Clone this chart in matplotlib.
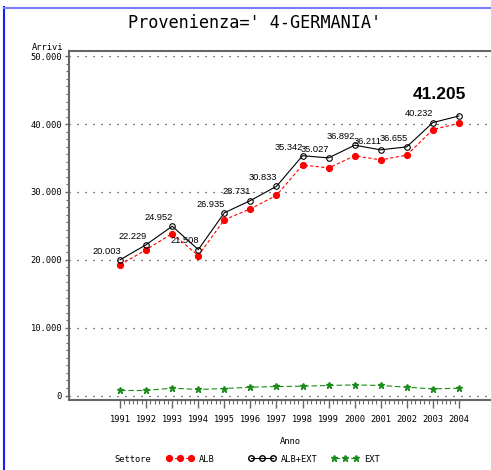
import matplotlib
matplotlib.use("Agg")
import matplotlib.pyplot as plt
import numpy as np
from matplotlib.lines import Line2D
from matplotlib.ticker import FixedLocator, FuncFormatter

# ---- data ----
years = [1991, 1992, 1993, 1994, 1995, 1996, 1997, 1998, 1999, 2000, 2001, 2002, 2003, 2004]
alb_ext = [20003, 22229, 24952, 21508, 26935, 28731, 30833, 35342, 35027, 36892, 36211, 36655, 40232, 41205]
alb = [19263, 21489, 23872, 20618, 25905, 27511, 29503, 33972, 33547, 35332, 34731, 35435, 39200, 40125]
ext = [740, 740, 1080, 890, 1030, 1220, 1330, 1370, 1480, 1560, 1480, 1220, 975, 1080]
y_ticks = [0, 10000, 20000, 30000, 40000, 50000]
y_tick_labels = ["0", "10.000", "20.000", "30.000", "40.000", "50.000"]
labels = ["20.003", "22.229", "24.952", "21.508", "26.935", "28.731", "30.833",
          "35.342", "35.027", "36.892", "36.211", "36.655", "40.232"]
last_label = "41.205"

W, H = 491, 470
DPI = 100
fig = plt.figure(figsize=(W / DPI, H / DPI), dpi=DPI)

def fx(px):
    return px / W

def fy(py):
    return 1 - py / H

# axes: left spine x=69, right edge 491, top y=51, bottom y=400
ax = fig.add_axes([fx(69), fy(400), fx(491) - fx(69), fy(51) - fy(400)])
ax.set_xlim(1989.04, 2005.23)
ax.set_ylim(-663, 50780)

red = "#ff0000"
green = "#1a8c1a"
spine_col = "#666666"

mono = "DejaVu Sans Mono"
sans = "Liberation Sans"

ax.plot(years, alb, color=red, linestyle=(0, (3, 2)), linewidth=0.8,
        marker="o", markersize=4.2, markerfacecolor=red, markeredgecolor=red, zorder=3)
ax.plot(years, alb_ext, color="black", linestyle="-", linewidth=0.8,
        marker="o", markersize=4.0, markerfacecolor="none", markeredgecolor="black",
        markeredgewidth=0.8, zorder=4)
ax.plot(years, ext, color=green, linestyle=(0, (5, 2.5)), linewidth=0.8,
        marker="*", markersize=5.0, markerfacecolor=green, markeredgecolor=green, zorder=3)

for x, y, t in zip(years, alb_ext, labels):
    ax.annotate(t, (x, y), xytext=(0.5, 3.0), textcoords="offset points",
                ha="right", va="bottom", fontsize=6.7, family=sans, zorder=5)
ax.annotate(last_label, (years[-1], alb_ext[-1]), xytext=(5, 15.5), textcoords="offset points",
            ha="right", va="center", fontsize=12.5, family=sans, fontweight="bold", zorder=5)

# grid
for yv in y_ticks:
    ax.axhline(yv, color="black", linewidth=0.9, linestyle=(0, (0.8, 5.6)), zorder=1)

# spines
for s in ["left", "bottom", "top"]:
    ax.spines[s].set_color(spine_col)
    ax.spines[s].set_linewidth(1.5)
ax.spines["right"].set_visible(False)

# ticks
ax.xaxis.set_major_locator(FixedLocator(years))
ax.xaxis.set_minor_locator(FixedLocator(np.arange(years[0], years[-1], 1 / 6)))
ax.set_xticklabels([str(y) for y in years], family=mono, fontsize=6.3)
ax.yaxis.set_major_locator(FixedLocator(y_ticks))
ax.yaxis.set_minor_locator(FixedLocator(np.arange(y_ticks[0], y_ticks[-1], 10000 / 9)))
ax.set_yticklabels(y_tick_labels, family=mono, fontsize=6.3)
ax.tick_params(axis="x", which="major", direction="out", length=5.5, width=1.0,
               color=spine_col, pad=5.5)
ax.tick_params(axis="x", which="minor", direction="out", length=3, width=0.8, color=spine_col)
ax.tick_params(axis="y", which="major", direction="out", length=3, width=1.0,
               color=spine_col, pad=2)
ax.tick_params(axis="y", which="minor", direction="out", length=2, width=0.8, color=spine_col)

# texts
fig.text(fx(255), fy(23), "Provenienza=' 4-GERMANIA'", family=mono, fontsize=12.2,
         ha="center", va="center")
fig.text(fx(63), fy(47), "Arrivi", family=mono, fontsize=6.3, ha="right", va="center")
fig.text(fx(290), fy(441), "Anno", family=mono, fontsize=6.3, ha="center", va="center")
fig.text(fx(133), fy(459), "Settore", family=mono, fontsize=6.3, ha="center", va="center")

# legend entries
entries = [
    (Line2D([], [], color=red, linestyle=(0, (3, 2)), linewidth=0.8, marker="o",
            markersize=4.2, markerfacecolor=red, markeredgecolor=red), "ALB", 166),
    (Line2D([], [], color="black", linestyle="-", linewidth=0.8, marker="o",
            markersize=4.0, markerfacecolor="none", markeredgecolor="black"), "ALB+EXT", 248),
    (Line2D([], [], color=green, linestyle=(0, (5, 2.5)), linewidth=0.8, marker="*",
            markersize=5.0, markerfacecolor=green, markeredgecolor=green), "EXT", 331),
]
for h, lab, xpx in entries:
    leg = fig.legend([h], [lab], loc="center left", bbox_to_anchor=(fx(xpx), fy(459)),
                     frameon=False, borderpad=0, borderaxespad=0, handlelength=3.2,
                     handletextpad=0.6, numpoints=3, prop={"family": mono, "size": 6.3})

# blue border
fig.add_artist(Line2D([fx(4), fx(4)], [fy(7), fy(470)], color="#1a1aff", linewidth=1.5,
                      transform=fig.transFigure))
fig.add_artist(Line2D([fx(4), fx(491)], [fy(7.5), fy(7.5)], color="#7a7aff", linewidth=1.5,
                      transform=fig.transFigure))

fig.savefig("out.png", dpi=DPI)
